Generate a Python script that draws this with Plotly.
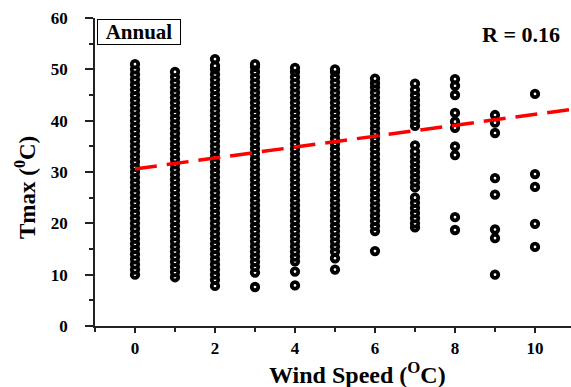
import plotly.graph_objects as go

# ---------------- data ----------------
wind_speeds = [0, 1, 2, 3, 4, 5, 6, 7, 8, 9, 10]

tmax_ws0 = [10, 11, 12, 13, 14, 15, 16, 17, 18, 19, 20, 21, 22, 23, 24, 25, 26, 27, 28, 29, 30,
            31, 32, 33, 34, 35, 36, 37, 38, 39, 40, 41, 42, 43, 44, 45, 46, 47, 48, 49, 50, 51]
tmax_ws1 = [9.5, 10.5, 11.5, 12.5, 13.5, 14.5, 15.5, 16.5, 17.5, 18.5, 19.5, 20.5, 21.5, 22.5,
            23.5, 24.5, 25.5, 26.5, 27.5, 28.5, 29.5, 30.5, 31.5, 32.5, 33.5, 34.5, 35.5, 36.5,
            37.5, 38.5, 39.5, 40.5, 41.5, 42.5, 43.5, 44.5, 45.5, 46.5, 47.5, 48.5, 49.5]
tmax_ws2 = [7.8, 9, 10, 11, 12, 13, 14, 15, 16, 17, 18, 19, 20, 21, 22, 23, 24, 25, 26, 27, 28,
            29, 30, 31, 32, 33, 34, 35, 36, 37, 38, 39, 40, 41, 42, 43, 44, 45, 46, 47, 48, 49,
            50, 50.7, 52]
tmax_ws3 = [7.6, 10.4, 11.5, 12.5, 13.5, 14.5, 15.5, 16.5, 17.5, 18.5, 19.5, 20.5, 21.5, 22.5,
            23.5, 24.5, 25.5, 26.5, 27.5, 28.5, 29.5, 30.5, 31.5, 32.5, 33.5, 34.5, 35.5, 36.5,
            37.5, 38.5, 39.5, 40.5, 41.5, 42.5, 43.5, 44.5, 45.5, 46.5, 47.5, 48.5, 49.5, 50.5, 51]
tmax_ws4 = [7.9, 10.6, 12.6, 13.5, 14.5, 15.5, 16.5, 17.5, 18.5, 19.5, 20.5, 21.5, 22.5, 23.5,
            24.5, 25.5, 26.5, 27.5, 28.5, 29.5, 30.5, 31.5, 32.5, 33.5, 34.5, 35.5, 36.5, 37.5,
            38.5, 39.5, 40.5, 41.5, 42.5, 43.5, 44.5, 45.5, 46.5, 47.5, 48.5, 49.5, 50.3]
tmax_ws5 = [11, 13.2, 14.5, 15.5, 16.5, 17.5, 18.5, 19.5, 20.5, 21.5, 22.5, 23.5, 24.5, 25.5,
            26.5, 27.5, 28.5, 29.5, 30.5, 31.5, 32.5, 33.5, 34.5, 35.5, 36.5, 37.5, 38.5, 39.5,
            40.5, 41.5, 42.5, 43.5, 44.5, 45.5, 46.5, 47.5, 48.5, 49.5, 50]
tmax_ws6 = [14.6, 18.5, 19.5, 20.5, 21.5, 22.5, 23.5, 24.5, 25.5, 26.5, 27.5, 28.5, 29.5, 30.5,
            31.5, 32.5, 33.5, 34.5, 35.5, 36.5, 37.5, 38.5, 39.5, 40.5, 41.5, 42.5, 43.5, 44.5,
            45.5, 46.5, 47.3, 48.2]
tmax_ws7 = [19.2, 20, 21, 22, 23, 24, 25, 27, 28, 29, 30, 31, 32, 33, 34, 35.2,
            39, 40, 41, 42, 43, 44, 45, 46, 47.2]
tmax_ws8 = [18.7, 21.2, 33.3, 35, 38.6, 39.8, 41.5, 45, 46.8, 48.1]
tmax_ws9 = [10, 17.1, 18.8, 25.6, 28.8, 37.6, 39.6, 41.1]
tmax_ws10 = [15.4, 19.9, 27.1, 29.6, 45.2]

trend_x = [0, 11]
trend_y = [30.6, 42.3]

x_tick_vals = [0, 2, 4, 6, 8, 10]
y_tick_vals = [0, 10, 20, 30, 40, 50, 60]

annual_label = "Annual"
r_label = "R = 0.16"
x_title = "Wind Speed (<sup>O</sup>C)"
y_title = "Tmax (<sup>0</sup>C)"

# ---------------- figure ----------------
columns = [tmax_ws0, tmax_ws1, tmax_ws2, tmax_ws3, tmax_ws4, tmax_ws5,
           tmax_ws6, tmax_ws7, tmax_ws8, tmax_ws9, tmax_ws10]
xs, ys = [], []
for ws, col in zip(wind_speeds, columns):
    xs.extend([ws] * len(col))
    ys.extend(col)

FONT = "Liberation Serif"

fig = go.Figure()
fig.add_trace(go.Scatter(
    x=xs, y=ys, mode="markers",
    marker=dict(symbol="circle", size=6.5, color="white",
                line=dict(color="black", width=3.8)),
    showlegend=False, hoverinfo="skip"))
fig.add_trace(go.Scatter(
    x=trend_x, y=trend_y, mode="lines",
    line=dict(color="#ff0000", width=3.5, dash="22px,10px"),
    showlegend=False, hoverinfo="skip"))

axis_common = dict(showline=True, linecolor="#222", linewidth=1.5, showgrid=False,
                   zeroline=False, ticks="outside", tickcolor="#222",
                   tickfont=dict(family=FONT, size=17, color="black", weight="bold"))

fig.update_xaxes(range=[-1.0, 10.9], tickvals=x_tick_vals, ticklen=5, tickwidth=1.5,
                 ticklabelstandoff=1,
                 minor=dict(ticks="outside", dtick=1, tick0=0, ticklen=4,
                            tickcolor="#222", tickwidth=1.5, showgrid=False),
                 **axis_common)
fig.update_yaxes(range=[0, 60], tickvals=y_tick_vals, ticklen=8, tickwidth=1.5,
                 ticklabelstandoff=14,
                 minor=dict(ticks="outside", dtick=5, tick0=0, ticklen=4,
                            tickcolor="#222", tickwidth=1.5, showgrid=False),
                 **axis_common)

fig.add_annotation(xref="paper", yref="paper", x=0.004, y=0.997, xanchor="left", yanchor="top",
                   text=annual_label, showarrow=False, width=80, height=22,
                   bordercolor="black", borderwidth=1, borderpad=1,
                   font=dict(family=FONT, size=21, color="black", weight="bold"))
fig.add_annotation(xref="paper", yref="paper", x=0.981, y=0.945, xanchor="right", yanchor="middle",
                   text=r_label, showarrow=False,
                   font=dict(family=FONT, size=22, color="black", weight="bold"))
fig.add_annotation(xref="paper", yref="paper", x=0.5525, y=-0.152, xanchor="center", yanchor="middle",
                   text=x_title, showarrow=False,
                   font=dict(family=FONT, size=24, color="black", weight="bold"))
fig.add_annotation(xref="paper", yref="paper", x=-0.147, y=0.448, xanchor="center", yanchor="middle",
                   text=y_title, showarrow=False, textangle=-90,
                   font=dict(family=FONT, size=23, color="black", weight="bold"))

fig.update_layout(width=571, height=387, margin=dict(l=95, r=0, t=18, b=61),
                  plot_bgcolor="white", paper_bgcolor="white")

fig.write_html("out.html", config={"displayModeBar": False},
               post_script="document.body.style.margin='0';document.body.style.overflow='hidden';")
